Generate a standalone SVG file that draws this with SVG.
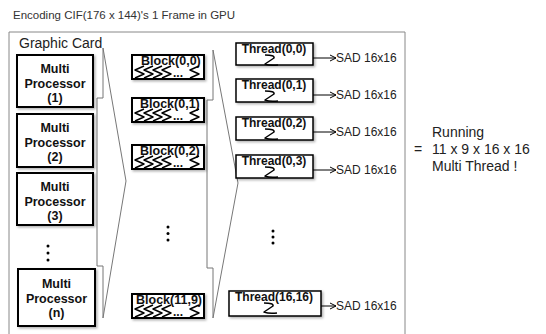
<svg xmlns="http://www.w3.org/2000/svg" width="546" height="334" viewBox="0 0 546 334">
<style>
text{font-family:"Liberation Sans",Arial,sans-serif;fill:#111}
.title{font-size:11.5px;fill:#333}
.gc{font-size:14px;fill:#222}
.pt{font-size:12.5px;font-weight:bold;text-anchor:middle}
.bt{font-size:12.5px;font-weight:bold}
.tt{font-size:12px;font-weight:bold;text-anchor:middle}
.sad{font-size:12px;fill:#222}
.run{font-size:14px;fill:#222}
.box{fill:#fff;stroke:#000;stroke-width:2;filter:url(#sh)}
.tbox{fill:#fff;stroke:#000;stroke-width:1.5;filter:url(#sh)}
.sq{fill:none;stroke:#000;stroke-width:1.5;stroke-linejoin:round}
.co{fill:none;stroke:#777;stroke-width:1}
.ar{fill:none;stroke:#000;stroke-width:1;marker-end:url(#ah)}
.dot{fill:#000}
</style>
<defs>
<filter id="sh" x="-10%" y="-10%" width="130%" height="140%">
<feDropShadow dx="1.5" dy="1.5" stdDeviation="1" flood-color="#000" flood-opacity="0.3"/>
</filter>
<marker id="ah" markerWidth="8" markerHeight="8" refX="7" refY="4" orient="auto" markerUnits="userSpaceOnUse">
<polyline points="1,1 7,4 1,7" fill="none" stroke="#000" stroke-width="1"/>
</marker>
<g id="bsq">
<path class="sq" d="M12,11 l-9,4 l9,4 l-9,4"/>
<path class="sq" d="M21,11 l-9,4 l9,4 l-9,4"/>
<path class="sq" d="M30,11 l-9,4 l9,4 l-9,4"/>
<path class="sq" d="M39,11 l-9,4 l9,4 l-9,4"/>
<path class="sq" d="M67,11 l-9,4 l9,4 l-9,4"/>
<text x="41" y="22" style="font-size:12px;font-weight:bold">...</text>
</g>
<path id="tsq" class="sq" d="M0,0 Q10,0 9,3 L0,9 Q5,11 13,10"/>
</defs>

<text class="title" x="13" y="19">Encoding CIF(176 x 144)'s 1 Frame in GPU</text>

<g id="graphic-card">
<path d="M9,340 V32 H405 V340" fill="none" stroke="#888" stroke-width="1"/>
<text class="gc" x="19" y="48">Graphic Card</text>
</g>

<g id="connectors">
<polygon class="co" points="103,48 126,181 103,318 103,266 97,266 97,98 103,98"/>
<polygon class="co" points="213,50 238,183 213,318 213,268 207,268 207,100 213,100"/>
<line class="ar" x1="298" y1="58" x2="336" y2="58"/>
<line class="ar" x1="298" y1="95" x2="336" y2="95"/>
<line class="ar" x1="298" y1="132" x2="336" y2="132"/>
<line class="ar" x1="298" y1="170" x2="336" y2="170"/>
<line class="ar" x1="298" y1="306" x2="336" y2="306"/>
</g>

<g id="mp1">
<rect class="box" x="17" y="55" width="76" height="52"/>
<text class="pt" x="55" y="73">Multi</text>
<text class="pt" x="55" y="88">Processor</text>
<text class="pt" x="55" y="102">(1)</text>
</g>
<g id="mp2">
<rect class="box" x="17" y="114" width="76" height="53"/>
<text class="pt" x="55" y="132">Multi</text>
<text class="pt" x="55" y="147">Processor</text>
<text class="pt" x="55" y="161">(2)</text>
</g>
<g id="mp3">
<rect class="box" x="17" y="173" width="76" height="52"/>
<text class="pt" x="55" y="191">Multi</text>
<text class="pt" x="55" y="206">Processor</text>
<text class="pt" x="55" y="220">(3)</text>
</g>
<g id="mp-dots">
<circle class="dot" cx="48" cy="246" r="1.5"/>
<circle class="dot" cx="48" cy="253" r="1.5"/>
<circle class="dot" cx="48" cy="260" r="1.5"/>
</g>
<g id="mpn">
<rect class="box" x="18" y="269" width="77" height="57"/>
<text class="pt" x="56.5" y="288">Multi</text>
<text class="pt" x="56.5" y="303">Processor</text>
<text class="pt" x="56.5" y="317">(n)</text>
</g>

<g id="block00">
<rect class="box" x="132" y="55" width="72" height="24"/>
<text class="bt" x="141" y="65">Block(0,0)</text>
<use href="#bsq" x="132" y="55"/>
</g>
<g id="block01">
<rect class="box" x="132" y="98" width="72" height="24"/>
<text class="bt" x="140" y="108">Block(0,1)</text>
<use href="#bsq" x="132" y="98"/>
</g>
<g id="block02">
<rect class="box" x="132" y="145" width="72" height="24"/>
<text class="bt" x="140" y="155">Block(0,2)</text>
<use href="#bsq" x="132" y="145"/>
</g>
<g id="block-dots">
<circle class="dot" cx="168" cy="227" r="1.5"/>
<circle class="dot" cx="168" cy="233.5" r="1.5"/>
<circle class="dot" cx="168" cy="240" r="1.5"/>
</g>
<g id="block119">
<rect class="box" x="132" y="294" width="72" height="24"/>
<text class="bt" x="136" y="304">Block(11,9)</text>
<use href="#bsq" x="132" y="294"/>
</g>

<g id="thread00">
<rect class="tbox" x="236" y="43" width="77" height="22"/>
<text class="tt" x="274" y="53">Thread(0,0)</text>
<use href="#tsq" x="265" y="55"/>
</g>
<g id="thread01">
<rect class="tbox" x="236" y="79" width="77" height="23"/>
<text class="tt" x="274" y="89">Thread(0,1)</text>
<use href="#tsq" x="265" y="91"/>
</g>
<g id="thread02">
<rect class="tbox" x="236" y="117" width="77" height="23"/>
<text class="tt" x="274" y="127">Thread(0,2)</text>
<use href="#tsq" x="265" y="129"/>
</g>
<g id="thread03">
<rect class="tbox" x="236" y="155" width="77" height="23"/>
<text class="tt" x="274" y="165">Thread(0,3)</text>
<use href="#tsq" x="265" y="167"/>
</g>
<g id="thread-dots">
<circle class="dot" cx="273" cy="231" r="1.5"/>
<circle class="dot" cx="273" cy="237" r="1.5"/>
<circle class="dot" cx="273" cy="243" r="1.5"/>
</g>
<g id="thread1616">
<rect class="tbox" x="229" y="291" width="92" height="25"/>
<text class="tt" x="274" y="301">Thread(16,16)</text>
<use href="#tsq" x="264" y="303"/>
</g>

<g id="sad">
<text class="sad" x="336" y="62">SAD 16x16</text>
<text class="sad" x="336" y="99">SAD 16x16</text>
<text class="sad" x="336" y="136">SAD 16x16</text>
<text class="sad" x="336" y="174">SAD 16x16</text>
<text class="sad" x="336" y="310">SAD 16x16</text>
</g>

<g id="running">
<text class="run" x="432" y="137">Running</text>
<text class="run" y="154"><tspan x="414">=</tspan><tspan x="432">11 x 9 x 16 x 16</tspan></text>
<text class="run" x="432" y="171">Multi Thread !</text>
</g>
</svg>
